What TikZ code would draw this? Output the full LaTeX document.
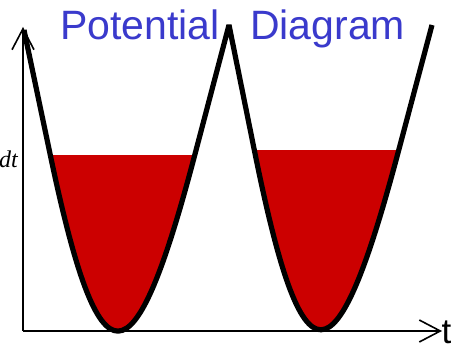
\documentclass[tikz,border=0pt]{standalone}
\usepackage{fontspec}
\setmainfont{Liberation Sans}
\newfontfamily\serifit{Liberation Serif}
\usetikzlibrary{arrows.meta}
\definecolor{titleblue}{RGB}{58,58,204}
\definecolor{wellred}{RGB}{204,0,0}
\begin{document}
\begin{tikzpicture}[x=1pt,y=-1pt,
  axis/.style={line width=1.6pt,-{Straight Barb[length=21pt,width=22pt,line width=1.6pt]}},
  curve/.style={line width=5.2pt,line join=bevel},
  titletext/.style={inner sep=0pt,text=titleblue,font=\fontsize{41}{41}\selectfont},
]
\useasboundingbox (0,0) rectangle (452,344);
\fill[white] (0,0) rectangle (452,344);
% key points of the potential curve
\coordinate (P0) at (24,30);
\coordinate (L1) at (50.5,156);
\coordinate (R1) at (194.5,156);
\coordinate (P1) at (229,25);
\coordinate (L2) at (254.5,151);
\coordinate (R2) at (398.5,151);
\coordinate (P2) at (432,25);
% red liquid
\begin{scope}
  \clip (0,156) rectangle (452,344);
  \fill[wellred] (P0) -- (L1) .. controls (100,391) and (133.3,388) .. (R1) -- (P1) -- cycle;
\end{scope}
\begin{scope}
  \clip (0,151) rectangle (452,344);
  \fill[wellred] (P1) -- (L2) .. controls (303,391) and (335.5,387.7) .. (R2) -- (P2) -- cycle;
\end{scope}
% axes
\coordinate (O) at (23,331);
\coordinate (Ytop) at (23,27);
\coordinate (Xend) at (442,331);
\draw[axis] (O) -- (Ytop);
\draw[axis] (O) -- (Xend);
% potential curve
\draw[curve] (P0) -- (L1) .. controls (100,391) and (133.3,388) .. (R1) -- (P1)
  -- (L2) .. controls (303,391) and (335.5,387.7) .. (R2) -- (P2);
% texts
\node[titletext,anchor=base west] (title1) at (60,40) {Potential};
\node[titletext,anchor=base west] (title2) at (250,40) {Diagram};
\node[inner sep=0pt,anchor=base east,font=\serifit\itshape\fontsize{24}{24}\selectfont] (ylab) at (18,168) {dt};
\node[inner sep=0pt,anchor=base west,font=\fontsize{35}{35}\selectfont] (tlab) at (441.5,343) {t};
\end{tikzpicture}
\end{document}
